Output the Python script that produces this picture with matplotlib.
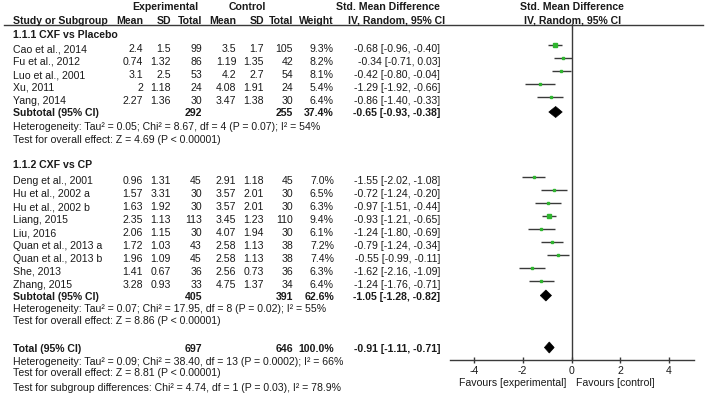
import matplotlib
matplotlib.use('Agg')
import matplotlib.pyplot as plt
from matplotlib.patches import Polygon

plt.rcParams['font.family'] = ['Liberation Sans', 'DejaVu Sans']

# study data
g1_names = ['Cao et al., 2014', 'Fu et al., 2012', 'Luo et al., 2001', 'Xu, 2011', 'Yang, 2014']
g1_exp_mean = [2.4, 0.74, 3.1, 2, 2.27]
g1_exp_sd = [1.5, 1.32, 2.5, 1.18, 1.36]
g1_exp_n = [99, 86, 53, 24, 30]
g1_ctl_mean = [3.5, 1.19, 4.2, 4.08, 3.47]
g1_ctl_sd = [1.7, 1.35, 2.7, 1.91, 1.38]
g1_ctl_n = [105, 42, 54, 24, 30]
g1_weight = [9.3, 8.2, 8.1, 5.4, 6.4]
g1_smd = [-0.68, -0.34, -0.42, -1.29, -0.86]
g1_lo = [-0.96, -0.71, -0.80, -1.92, -1.40]
g1_hi = [-0.40, 0.03, -0.04, -0.66, -0.33]

g2_names = ['Deng et al., 2001', 'Hu et al., 2002 a', 'Hu et al., 2002 b', 'Liang, 2015', 'Liu, 2016',
            'Quan et al., 2013 a', 'Quan et al., 2013 b', 'She, 2013', 'Zhang, 2015']
g2_exp_mean = [0.96, 1.57, 1.63, 2.35, 2.06, 1.72, 1.96, 1.41, 3.28]
g2_exp_sd = [1.31, 3.31, 1.92, 1.13, 1.15, 1.03, 1.09, 0.67, 0.93]
g2_exp_n = [45, 30, 30, 113, 30, 43, 45, 36, 33]
g2_ctl_mean = [2.91, 3.57, 3.57, 3.45, 4.07, 2.58, 2.58, 2.56, 4.75]
g2_ctl_sd = [1.18, 2.01, 2.01, 1.23, 1.94, 1.13, 1.13, 0.73, 1.37]
g2_ctl_n = [45, 30, 30, 110, 30, 38, 38, 36, 34]
g2_weight = [7.0, 6.5, 6.3, 9.4, 6.1, 7.2, 7.4, 6.3, 6.4]
g2_smd = [-1.55, -0.72, -0.97, -0.93, -1.24, -0.79, -0.55, -1.62, -1.24]
g2_lo = [-2.02, -1.24, -1.51, -1.21, -1.80, -1.24, -0.99, -2.16, -1.76]
g2_hi = [-1.08, -0.20, -0.44, -0.65, -0.69, -0.34, -0.11, -1.09, -0.71]

# pooled: [exp total, ctl total, weight, smd, lo, hi]
sub1 = [292, 255, 37.4, -0.65, -0.93, -0.38]
sub2 = [405, 391, 62.6, -1.05, -1.28, -0.82]
total = [697, 646, 100.0, -0.91, -1.11, -0.71]

sub1_het = 'Heterogeneity: Tau² = 0.05; Chi² = 8.67, df = 4 (P = 0.07); I² = 54%'
sub1_test = 'Test for overall effect: Z = 4.69 (P < 0.00001)'
sub2_het = 'Heterogeneity: Tau² = 0.07; Chi² = 17.95, df = 8 (P = 0.02); I² = 55%'
sub2_test = 'Test for overall effect: Z = 8.86 (P < 0.00001)'
tot_het = 'Heterogeneity: Tau² = 0.09; Chi² = 38.40, df = 13 (P = 0.0002); I² = 66%'
tot_test = 'Test for overall effect: Z = 8.81 (P < 0.00001)'
tot_sub = 'Test for subgroup differences: Chi² = 4.74, df = 1 (P = 0.03), I² = 78.9%'

xticks = [-4, -2, 0, 2, 4]

FS = 7.6
TXT = '#1a1a1a'
GREEN = '#2fb52f'
LINE = '#3a3a3a'

W, H = 708, 398
fig = plt.figure(figsize=(W / 100, H / 100), dpi=100)
fig.patch.set_facecolor('white')

# table axes in pixel coordinates
ax = fig.add_axes([0, 0, 1, 1])
ax.set_xlim(0, W)
ax.set_ylim(H, 0)
ax.axis('off')

# forest axes: x -5..5 from px 449.5 to 693.5, y shares pixel rows 24..360
fx0, fx1, fy0, fy1 = 449.5, 693.5, 24, 360
fa = fig.add_axes([fx0 / W, (H - fy1) / H, (fx1 - fx0) / W, (fy1 - fy0) / H])
fa.set_xlim(-5, 5)
fa.set_ylim(fy1, fy0)
fa.patch.set_alpha(0)
for s in ['top', 'left', 'right']:
    fa.spines[s].set_visible(False)
fa.spines['bottom'].set_color(LINE)
fa.spines['bottom'].set_linewidth(1.0)
fa.set_yticks([])
fa.set_xticks(xticks)
fa.set_xticklabels([str(t) for t in xticks])
fa.tick_params(axis='x', direction='inout', length=5, width=1, color=LINE,
               labelsize=FS, labelcolor=TXT, pad=1.5)
fa.axvline(0, color=LINE, lw=1.0)

# column right edges
c_mean1, c_sd1, c_n1 = 143, 171, 202
c_mean2, c_sd2, c_n2 = 236.5, 264, 293
c_w, c_ci = 334, 440
name_x = 13


def t(x, y, s, ha='left', bold=False):
    ax.text(x, y, s, ha=ha, va='center', fontsize=FS, color=TXT,
            fontweight='bold' if bold else 'normal')


def fmt(v):
    return f'{v:g}'


def ci_str(e, lo, hi):
    return f'{e:.2f} [{lo:.2f}, {hi:.2f}]'


# header
t(165, 7.5, 'Experimental', ha='center', bold=True)
t(247, 7.5, 'Control', ha='center', bold=True)
t(388, 7.5, 'Std. Mean Difference', ha='center', bold=True)
t(572, 7.5, 'Std. Mean Difference', ha='center', bold=True)
t(name_x, 20.5, 'Study or Subgroup', bold=True)
for x, s in [(c_mean1, 'Mean'), (c_sd1, 'SD'), (c_n1, 'Total'), (c_mean2, 'Mean'),
             (c_sd2, 'SD'), (c_n2, 'Total'), (c_w, 'Weight')]:
    t(x, 20.5, s, ha='right', bold=True)
t(397, 20.5, 'IV, Random, 95% CI', ha='center', bold=True)
t(573, 20.5, 'IV, Random, 95% CI', ha='center', bold=True)
ax.plot([4, 703], [24.5, 24.5], color=LINE, lw=1.0)


def study_rows(y0, names, m1, s1, n1, m2, s2, n2, w, e, lo, hi):
    for i in range(len(names)):
        y = y0 + 13 * i
        t(name_x, y, names[i])
        t(c_mean1, y, fmt(m1[i]), ha='right')
        t(c_sd1, y, fmt(s1[i]), ha='right')
        t(c_n1, y, str(n1[i]), ha='right')
        t(c_mean2, y, fmt(m2[i]), ha='right')
        t(c_sd2, y, fmt(s2[i]), ha='right')
        t(c_n2, y, str(n2[i]), ha='right')
        t(c_w, y, f'{w[i]:.1f}%', ha='right')
        t(c_ci, y, ci_str(e[i], lo[i], hi[i]), ha='right')
        ym = y - 4
        fa.plot([lo[i], hi[i]], [ym, ym], color=LINE, lw=1.0, solid_capstyle='butt')
        fa.plot(e[i], ym, marker='s', ms=0.75 * w[i] ** 0.5, color=GREEN, mec=GREEN, lw=0)


def pooled_row(y, label, p):
    t(name_x, y, label, bold=True)
    t(c_n1, y, str(p[0]), ha='right', bold=True)
    t(c_n2, y, str(p[1]), ha='right', bold=True)
    t(c_w, y, f'{p[2]:.1f}%', ha='right', bold=True)
    t(c_ci, y, ci_str(p[3], p[4], p[5]), ha='right', bold=True)
    yd = y - 1.5
    fa.add_patch(Polygon([(p[4], yd), (p[3], yd - 5.5), (p[5], yd), (p[3], yd + 5.5)],
                         closed=True, facecolor='black', edgecolor='black', lw=0.5))


t(name_x, 35, '1.1.1 CXF vs Placebo', bold=True)
study_rows(49, g1_names, g1_exp_mean, g1_exp_sd, g1_exp_n, g1_ctl_mean, g1_ctl_sd,
           g1_ctl_n, g1_weight, g1_smd, g1_lo, g1_hi)
pooled_row(113.5, 'Subtotal (95% CI)', sub1)
t(name_x, 127, sub1_het)
t(name_x, 140, sub1_test)

t(name_x, 165, '1.1.2 CXF vs CP', bold=True)
study_rows(181, g2_names, g2_exp_mean, g2_exp_sd, g2_exp_n, g2_ctl_mean, g2_ctl_sd,
           g2_ctl_n, g2_weight, g2_smd, g2_lo, g2_hi)
pooled_row(297, 'Subtotal (95% CI)', sub2)
t(name_x, 309, sub2_het)
t(name_x, 320.5, sub2_test)

pooled_row(349, 'Total (95% CI)', total)
t(name_x, 362, tot_het)
t(name_x, 373.5, tot_test)
t(name_x, 388, tot_sub)

t(566, 383, 'Favours [experimental]', ha='right')
t(576, 383, 'Favours [control]')

fig.savefig('out.png', dpi=100)
